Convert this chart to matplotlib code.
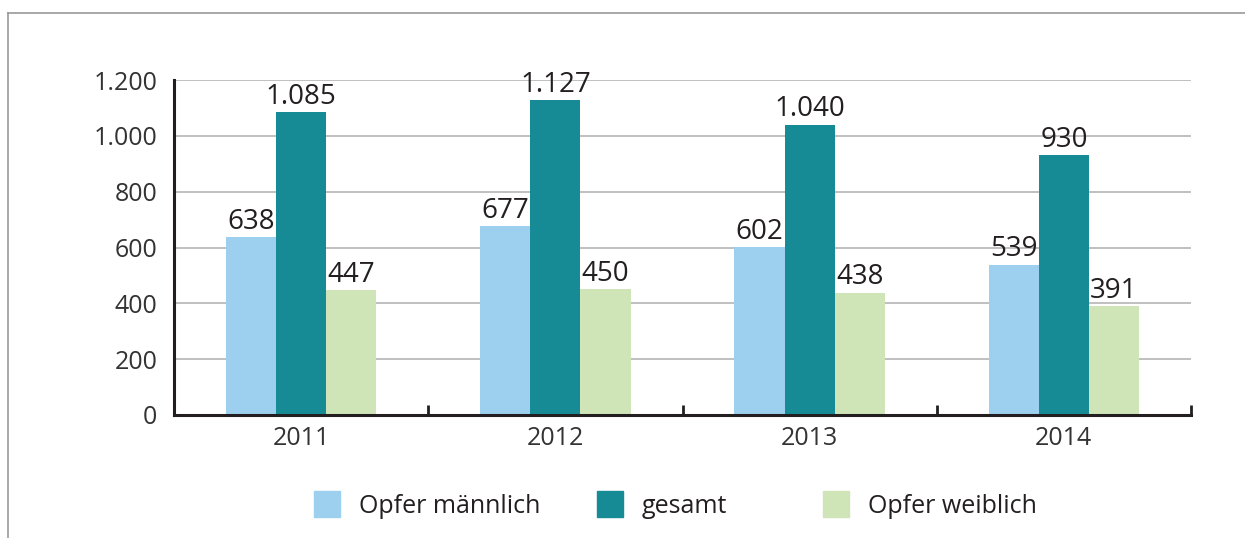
import numpy as np
import matplotlib.pyplot as plt
from matplotlib.patches import Rectangle
from matplotlib.lines import Line2D
from matplotlib import font_manager

years = ["2011", "2012", "2013", "2014"]
opfer_m = [638, 677, 602, 539]
gesamt = [1085, 1127, 1040, 930]
opfer_w = [447, 450, 438, 391]
series_names = ["Opfer männlich", "gesamt", "Opfer weiblich"]
colors = ["#9dd0ee", "#168b96", "#cfe5b8"]
yticks = [0, 200, 400, 600, 800, 1000, 1200]


def fmt(v):
    # german thousands separator
    return f"{v:,}".replace(",", ".")


names = {f.name for f in font_manager.fontManager.ttflist}
main_font = "Open Sans" if "Open Sans" in names else "DejaVu Sans"
plt.rcParams["font.family"] = main_font

W, H = 1245, 538
fig = plt.figure(figsize=(W / 100, H / 100), dpi=100)
ax = fig.add_axes([174 / W, 1 - 415 / H, (1191 - 174) / W, (415 - 80) / H])

x = np.arange(len(years))
w = 0.197
data = [opfer_m, gesamt, opfer_w]
for i, (vals, c) in enumerate(zip(data, colors)):
    bars = ax.bar(x + (i - 1) * w, vals, width=w, color=c, zorder=2)
    for b, v in zip(bars, vals):
        ax.annotate(fmt(v), (b.get_x() + b.get_width() / 2, v), xytext=(0, 6),
                    textcoords="offset points", ha="center", va="baseline",
                    fontsize=20, color="#231f20")

ax.set_xlim(-0.5, len(years) - 0.5)
ax.set_ylim(0, 1200)
ax.set_yticks(yticks)
ax.set_yticklabels([fmt(v) for v in yticks], fontsize=18, color="#333333")
ax.tick_params(axis="y", length=0, pad=12)
ax.set_xticks(x)
ax.set_xticklabels(years, fontsize=18, color="#333333")
ax.tick_params(axis="x", length=0, pad=8)
# group separators on the x axis
ax.set_xticks(np.arange(len(years) + 1) - 0.5, minor=True)
ax.tick_params(axis="x", which="minor", direction="in", length=7, width=2, color="#231f20")

ax.grid(axis="y", color="#b5b5b5", linewidth=1.2, zorder=0)
for s in ["top", "right"]:
    ax.spines[s].set_visible(False)
for s in ["left", "bottom"]:
    ax.spines[s].set_color("#231f20")
    ax.spines[s].set_linewidth(2.2)

# outer frame (top and left only)
fig.add_artist(Line2D([8 / W, 1], [1 - 13 / H, 1 - 13 / H], color="#999999", lw=1.2))
fig.add_artist(Line2D([8 / W, 8 / W], [0, 1 - 13 / H], color="#999999", lw=1.2))

# legend
leg_sq = [314, 597, 823]
for name, c, sx in zip(series_names, colors, leg_sq):
    fig.add_artist(Rectangle((sx / W, 1 - 517 / H), 26 / W, 26 / H, color=c))
    fig.text((sx + 45) / W, 1 - 513 / H, name, fontsize=18,
             color="#231f20", va="baseline", ha="left")

fig.savefig("out.png", dpi=100)
